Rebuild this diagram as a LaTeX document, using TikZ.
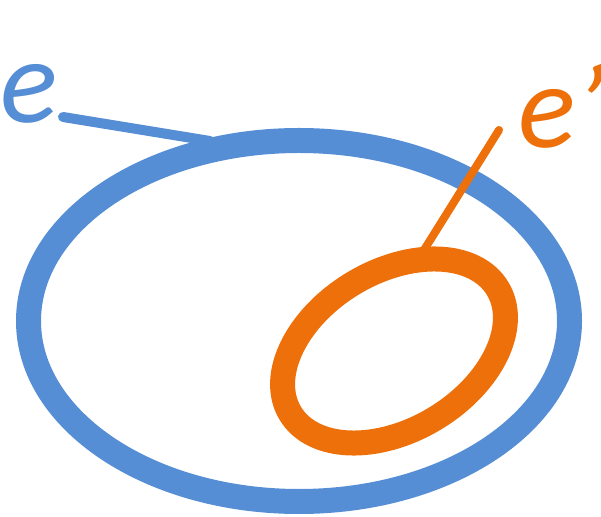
\documentclass[tikz,border=0pt]{standalone}
\usepackage{fontspec}
\setmainfont{Carlito}
\usetikzlibrary{shapes.geometric}
\definecolor{eblue}{HTML}{558ED5}
\definecolor{eorange}{HTML}{ED700A}
\begin{document}
\begin{tikzpicture}[x=1pt,y=1pt,
  ring/.style={draw, shape=ellipse, inner sep=0pt, outer sep=0pt, line width=25pt},
  lbl/.style={inner sep=0pt, outer sep=0pt, anchor=base west, font=\fontsize{120}{120}\selectfont\itshape},
  lead/.style={line cap=round}]
\useasboundingbox (0,0) rectangle (601,516);
\node[ring, draw=eblue, minimum width=541pt, minimum height=361pt] (big) at (299,195) {};
\node[ring, draw=eorange, minimum width=242pt, minimum height=158pt, rotate=31] (small) at (394,165) {};
\node[lbl, text=eblue] (le) at (1,393) {e};
\node[lbl, text=eorange] (lep) at (518,368) {e’};
\coordinate (bs) at (63,399);
\coordinate (be) at (210,375);
\coordinate (os) at (499,386);
\coordinate (oe) at (419,258);
\draw[lead, eblue, line width=10pt] (bs) -- (be);
\draw[lead, eorange, line width=8pt] (os) -- (oe);
\end{tikzpicture}
\end{document}
